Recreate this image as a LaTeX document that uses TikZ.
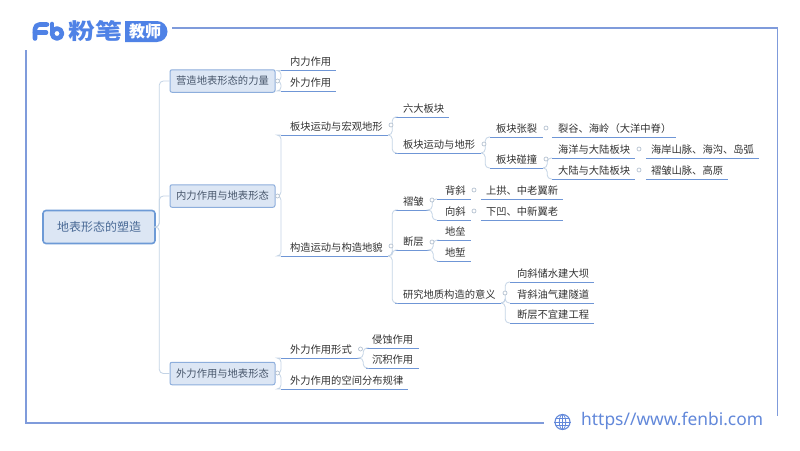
\documentclass[tikz,border=0pt]{standalone}
\usepackage{fontspec}
\usepackage{graphicx}
\setmainfont{Noto Sans CJK SC}
\newfontfamily\urlfont{Noto Sans}
\usetikzlibrary{calc}
\definecolor{frameblue}{HTML}{7F9BDB}
\definecolor{uline}{HTML}{6F96D6}
\definecolor{connc}{HTML}{C4D4E6}
\definecolor{boxfill}{HTML}{DCE6F4}
\definecolor{boxline}{HTML}{8DAEDC}
\definecolor{rootline}{HTML}{6D9AD6}
\definecolor{txt}{HTML}{333333}
\definecolor{boxtxt}{HTML}{47566B}
\definecolor{roottxt}{HTML}{4A6A96}
\definecolor{logoblue}{HTML}{4F82E6}
\definecolor{urlblue}{HTML}{6288DA}
\tikzset{
  frameline/.style={draw=frameblue,line width=1.5pt},
  leafnode/.style={inner sep=0pt,anchor=south,minimum height=17pt,text=txt,align=left,font=\fontsize{10.3}{12}\selectfont},
  ulinestyle/.style={draw=uline,line width=1pt},
  conn/.style={draw=connc,line width=0.8pt,rounded corners=4pt},
  dot/.style={circle,draw=connc!80!gray,fill=white,line width=0.7pt,minimum size=4pt,inner sep=0pt},
  lonebox/.style={rectangle,rounded corners=2pt,draw=boxline,line width=1pt,fill=boxfill,minimum width=105pt,minimum height=22.5pt,inner sep=0pt,text=boxtxt,font=\fontsize{10.3}{12}\selectfont},
  rootbox/.style={rectangle,rounded corners=3pt,draw=rootline,line width=1.6pt,fill=boxfill,minimum width=112pt,minimum height=33pt,inner sep=0pt,text=roottxt,font=\fontsize{12}{14}\selectfont},
}
% name, underline start, text start, underline end, underline y, text
\newcommand{\leaf}[6]{%
  \pgfmathsetmacro{\lfw}{#4-#2}%
  \pgfmathsetmacro{\lfc}{(#2+#4)/2}%
  \pgfmathsetmacro{\lfp}{#3-#2}%
  \node[leafnode,text width=\lfw pt,minimum width=\lfw pt] (#1) at (\lfc,#5) {\hspace*{\lfp pt}#6};
  \draw[ulinestyle] (#1.south west) -- (#1.south east);
}
\begin{document}
\begin{tikzpicture}[x=1pt,y=-1pt]
\useasboundingbox (0,0) rectangle (800,450);
\fill[white] (0,0) rectangle (800,450);
% frame
\draw[frameline] (172,28) -- (777.5,28) -- (777.5,416);
\draw[frameline] (26,50) -- (26,423) -- (544,423);
% logo
\begin{scope}[draw=logoblue,line width=4.6pt,line cap=round,line join=round]
  \draw (35,38.5) -- (35,29) arc[start angle=180,end angle=270,radius=4.5] -- (47,24.5);
  \draw (35,32.5) -- (46,32.5);
  \draw (52,24) -- (52,33.5);
  \draw (57,33.5) circle[radius=5];
\end{scope}
\node[text=logoblue,inner sep=0pt,font=\fontsize{22}{24}\selectfont\bfseries] (logoname) at (95,31) {\scalebox{1.22}[1]{粉笔}};
\fill[logoblue] (125,21) -- (157,21) arc[start angle=-90,end angle=90,radius=10.5] -- (125,42) -- cycle;
\node[text=white,inner sep=0pt,font=\fontsize{16}{18}\selectfont\bfseries] (logotag) at (145,31.5) {教师};
% main boxes
\node[rootbox] (root) at (99,227) {地表形态的塑造};
\node[lonebox] (b1) at (222.5,81) {营造地表形态的力量};
\node[lonebox] (b2) at (222.5,196) {内力作用与地表形态};
\node[lonebox] (b3) at (222.5,373.5) {外力作用与地表形态};
% leaves
\leaf{a1}{281}{290}{336}{70.5}{内力作用}
\leaf{a2}{281}{290}{336}{91}{外力作用}
\leaf{c1}{281}{290}{388}{135}{板块运动与宏观地形}
\leaf{c2}{281}{290}{388}{256}{构造运动与构造地貌}
\leaf{e1}{281}{290}{360}{358}{外力作用形式}
\leaf{e2}{281}{290}{408}{389}{外力作用的空间分布规律}
\leaf{d1}{395}{403}{449}{117}{六大板块}
\leaf{d2}{395}{403}{481}{153}{板块运动与地形}
\leaf{f1}{490}{496}{543}{137}{板块张裂}
\leaf{f2}{490}{496}{543}{168}{板块碰撞}
\leaf{g0}{552}{558}{676}{137}{裂谷、海岭（大洋中脊）}
\leaf{g1}{552}{558}{635}{158}{海洋与大陆板块}
\leaf{g2}{552}{558}{635}{179}{大陆与大陆板块}
\leaf{h1}{646}{651}{759}{158}{海岸山脉、海沟、岛弧}
\leaf{h2}{646}{651}{728}{179}{褶皱山脉、高原}
\leaf{i1}{395}{403}{429}{210}{褶皱}
\leaf{i2}{395}{403}{430}{250}{断层}
\leaf{i3}{395}{403}{501}{303}{研究地质构造的意义}
\leaf{j1}{437}{445}{471}{199}{背斜}
\leaf{j2}{437}{445}{471}{220}{向斜}
\leaf{k1}{481}{486}{563}{199}{上拱、中老翼新}
\leaf{k2}{481}{486}{563}{220}{下凹、中新翼老}
\leaf{l1}{437}{445}{471}{240}{地垒}
\leaf{l2}{437}{445}{471}{261}{地堑}
\leaf{m1}{510}{517}{594}{282}{向斜储水建大坝}
\leaf{m2}{510}{517}{594}{303}{背斜油气建隧道}
\leaf{m3}{510}{517}{594}{323}{断层不宜建工程}
\leaf{n1}{366}{372}{419}{348}{侵蚀作用}
\leaf{n2}{366}{372}{419}{368}{沉积作用}
% connectors
\foreach \c in {b1,b2,b3}{\draw[conn] (root.east) -- ++(3.5,0) |- (\c.west);}
\foreach \c in {a1,a2}{\draw[conn] (b1.east) -- ++(5.5,0) |- (\c.south west);}
\foreach \c in {c1,c2}{\draw[conn] (b2.east) -- ++(5.5,0) |- (\c.south west);}
\foreach \c in {e1,e2}{\draw[conn] (b3.east) -- ++(5.5,0) |- (\c.south west);}
\foreach \c in {d1,d2}{\draw[conn] (c1.south east) -- ++(4,0) |- (\c.south west);}
\foreach \c in {f1,f2}{\draw[conn] (d2.south east) -- ++(4,0) |- (\c.south west);}
\foreach \c in {g1,g2}{\draw[conn] (f2.south east) -- ++(4,0) |- (\c.south west);}
\foreach \c in {i1,i2,i3}{\draw[conn] (c2.south east) -- ++(4,0) |- (\c.south west);}
\foreach \c in {j1,j2}{\draw[conn] (i1.south east) -- ++(3,0) |- (\c.south west);}
\foreach \c in {l1,l2}{\draw[conn] (i2.south east) -- ++(3,0) |- (\c.south west);}
\foreach \c in {m1,m2,m3}{\draw[conn] (i3.south east) -- ++(4,0) |- (\c.south west);}
\foreach \c in {n1,n2}{\draw[conn] (e1.south east) -- ++(3,0) |- (\c.south west);}
% fold dots
\foreach \n/\x/\y in {p1/277.5/81,p2/277.5/196,p3/277.5/373,p4/391/125,p5/391/246,p6/360.5/349,
  p7/484/144,p8/546/128,p9/546/159,p10/639/149,p11/639/170,p12/432/200,p13/432/242,p14/505/293,
  p15/474/190,p16/474/211}{\node[dot] (\n) at (\x,\y) {};}
% footer
\node[circle,draw=urlblue,line width=1.1pt,minimum size=15pt,inner sep=0pt] (globe) at (562.5,422) {};
\begin{scope}[draw=urlblue,line width=0.8pt]
  \draw (globe.center) ellipse[x radius=3.2,y radius=7.5];
  \draw (globe.north) -- (globe.south);
  \draw (globe.west) -- (globe.east);
  \draw ($(globe.center)+(-6.4,-3.6)$) -- ($(globe.center)+(6.4,-3.6)$);
  \draw ($(globe.center)+(-6.4,3.6)$) -- ($(globe.center)+(6.4,3.6)$);
\end{scope}
\node[text=urlblue,inner sep=0pt,anchor=west,font=\urlfont\fontsize{17.4}{19}\selectfont] (url) at (581,421) {https//www.fenbi.com};
\end{tikzpicture}
\end{document}
